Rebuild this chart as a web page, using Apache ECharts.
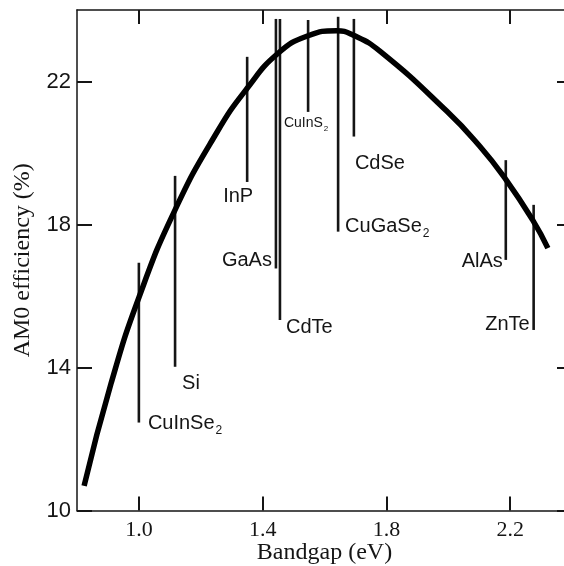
<!DOCTYPE html>
<html>
<head>
<meta charset="utf-8">
<script src="https://cdn.jsdelivr.net/npm/echarts@6/dist/echarts.min.js"></script>
<style>
  html, body { margin: 0; padding: 0; background: #fff; }
  #chart { width: 564px; height: 566px; }
</style>
</head>
<body>
<div id="chart"></div>
<script>
// efficiency curve
const curveX = [0.823, 0.91, 1.001, 1.117, 1.251, 1.35, 1.45, 1.547, 1.639, 1.692, 1.779, 1.994, 2.102, 2.182, 2.274, 2.322];
const curveY = [10.69, 13.55, 15.98, 18.41, 20.56, 21.81, 22.79, 23.28, 23.42, 23.30, 22.85, 21.18, 20.19, 19.31, 18.11, 17.34];

// material bandgap markers
const materials = ['CuInSe2', 'Si', 'InP', 'GaAs', 'CdTe', 'CuInS2', 'CuGaSe2', 'CdSe', 'AlAs', 'ZnTe'];
const labelText = ['CuInSe{s|2}', 'Si', 'InP', 'GaAs', 'CdTe', 'CuInS{s|2}', 'CuGaSe{s|2}', 'CdSe', 'AlAs', 'ZnTe'];
const bandgaps = [1.0, 1.117, 1.35, 1.443, 1.456, 1.547, 1.644, 1.695, 2.186, 2.276];
const lineTop = [16.93, 19.36, 22.69, 23.75, 23.75, 23.72, 23.81, 23.75, 19.80, 18.55];
const lineBottom = [12.46, 14.02, 19.19, 16.77, 15.33, 21.15, 17.80, 20.46, 17.01, 15.05];

const xTicks = [1.0, 1.4, 1.8, 2.2];
const yTicks = [10, 14, 18, 22];

// where each label sits relative to the bottom end of its line
const labelPlace = {
    CuInSe2: { align: 'left', dx: 9, dy: 1 },
    Si: { align: 'left', dx: 7, dy: 17 },
    InP: { align: 'center', dx: -9, dy: 15 },
    GaAs: { align: 'right', dx: -4, dy: -8 },
    CdTe: { align: 'left', dx: 6, dy: 8 },
    CuInS2: { align: 'center', dx: -2, dy: 11, size: 14 },
    CuGaSe2: { align: 'left', dx: 7, dy: -5 },
    CdSe: { align: 'left', dx: 1, dy: 27 },
    AlAs: { align: 'right', dx: -3, dy: 2 },
    ZnTe: { align: 'right', dx: -4, dy: -5 },
};

const ink = '#151515';
const sans = "'Liberation Sans', Arial, sans-serif";
const serif = "'Liberation Serif', 'Times New Roman', serif";

const chart = echarts.init(document.getElementById('chart'));

const baseX = {
    type: 'value',
    min: 0.8,
    max: 2.4,
    splitLine: { show: false },
    axisLine: { lineStyle: { color: ink, width: 1.5 } },
    axisTick: { inside: true, length: 14, customValues: xTicks, lineStyle: { color: ink, width: 2 } },
};
const baseY = {
    type: 'value',
    min: 10,
    max: 24,
    splitLine: { show: false },
    axisLine: { show: true, lineStyle: { color: ink, width: 1.5 } },
    axisTick: { show: true, inside: true, length: 15, customValues: yTicks, lineStyle: { color: ink, width: 2 } },
};

const option = {
    backgroundColor: '#fff',
    animation: false,
    // the plot runs a little past the right edge of the picture
    grid: { left: 77, top: 10, right: -8, bottom: 55.5, outerBoundsMode: 'none', containLabel: false },
    xAxis: [
        {
            ...baseX,
            position: 'bottom',
            axisLabel: {
                customValues: xTicks,
                formatter: v => v.toFixed(1),
                color: ink,
                fontFamily: serif,
                fontSize: 22,
                margin: 9,
            },
            name: 'Bandgap (eV)',
            nameLocation: 'middle',
            nameGap: 30,
            nameMoveOverlap: false,
            nameTextStyle: { color: ink, fontFamily: serif, fontSize: 24 },
        },
        { ...baseX, position: 'top', axisLabel: { show: false } },
    ],
    yAxis: [
        {
            ...baseY,
            position: 'left',
            axisLabel: {
                customValues: yTicks,
                color: ink,
                fontFamily: sans,
                fontSize: 22,
                margin: 6,
            },
            name: 'AM0 efficiency (%)',
            nameLocation: 'middle',
            nameRotate: 90,
            nameGap: 42,
            nameMoveOverlap: false,
            nameTextStyle: { color: ink, fontFamily: serif, fontSize: 24 },
        },
        { ...baseY, position: 'right', axisLabel: { show: false } },
    ],
    series: [
        {
            type: 'custom',
            xAxisIndex: 0,
            yAxisIndex: 0,
            data: materials.map((m, i) => [bandgaps[i], lineTop[i], lineBottom[i]]),
            encode: { x: 0, y: [1, 2] },
            renderItem: (params, api) => {
                const i = params.dataIndex;
                const top = api.coord([api.value(0), api.value(1)]);
                const bot = api.coord([api.value(0), api.value(2)]);
                const place = labelPlace[materials[i]];
                const size = place.size || 20;
                return {
                    type: 'group',
                    children: [
                        {
                            type: 'line',
                            shape: { x1: top[0], y1: top[1], x2: bot[0], y2: bot[1] },
                            style: { stroke: ink, lineWidth: 2.6 },
                        },
                        {
                            type: 'text',
                            x: bot[0] + place.dx,
                            y: bot[1] + place.dy,
                            style: {
                                text: labelText[i],
                                fill: ink,
                                fontFamily: sans,
                                fontSize: size,
                                align: place.align,
                                verticalAlign: 'middle',
                                rich: {
                                    s: { fontFamily: sans, fontSize: Math.round(size * 0.6), fill: ink, verticalAlign: 'bottom', padding: [0, 0, -3, 1] },
                                },
                            },
                        },
                    ],
                };
            },
            z: 2,
        },
        {
            type: 'line',
            xAxisIndex: 0,
            yAxisIndex: 0,
            data: curveX.map((x, i) => [x, curveY[i]]),
            smooth: 0.5,
            symbol: 'none',
            lineStyle: { color: '#000', width: 5.5 },
            z: 3,
        },
    ],
};

chart.setOption(option);
</script>
</body>
</html>
